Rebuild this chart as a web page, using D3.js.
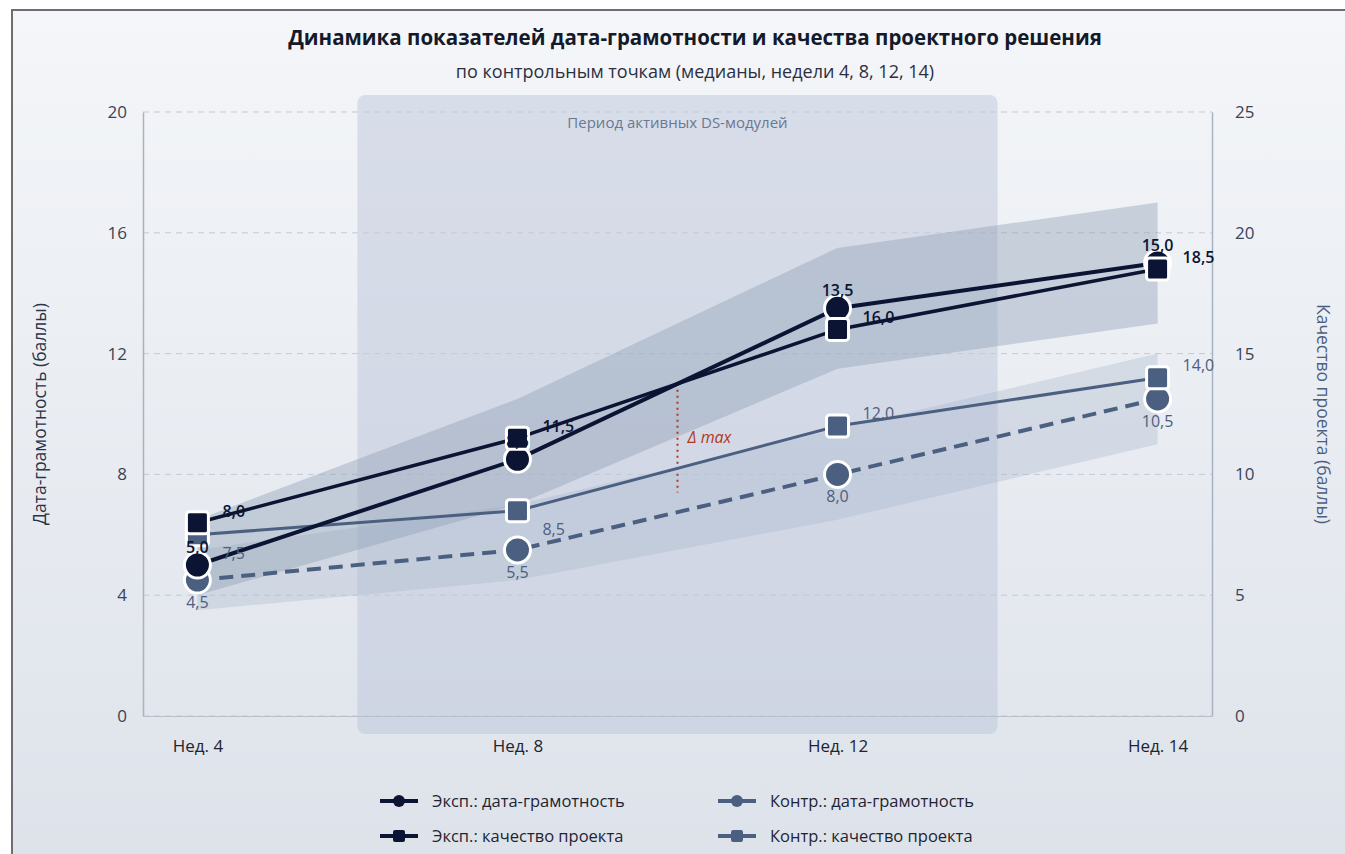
<!DOCTYPE html>
<html>
<head>
<meta charset="utf-8">
<script src="https://cdn.jsdelivr.net/npm/d3@7/dist/d3.min.js"></script>
<style>
  body { margin: 0; background: #fff; font-family: "Open Sans", "Noto Sans", sans-serif; }
  svg { display: block; }
</style>
</head>
<body>
<div id="container"></div>
<script>
// контрольные точки
const weeks = ["Нед. 4", "Нед. 8", "Нед. 12", "Нед. 14"];

// медианы
const expLiteracy = [5.0, 8.5, 13.5, 15.0];
const expQuality = [8.0, 11.5, 16.0, 18.5];
const ctrlLiteracy = [4.5, 5.5, 8.0, 10.5];
const ctrlQuality = [7.5, 8.5, 12.0, 14.0];

// межквартильные коридоры (дата-грамотность)
const expLitLow = [4.0, 7.0, 11.5, 13.0];
const expLitHigh = [6.5, 10.5, 15.5, 17.0];
const ctrlLitLow = [3.5, 4.5, 6.5, 9.0];
const ctrlLitHigh = [5.5, 7.0, 9.5, 12.0];

const leftTicks = [0, 4, 8, 12, 16, 20];
const rightTicks = [0, 5, 10, 15, 20, 25];
const deltaRange = [7.4, 11.0];
const ctrlQualLabelSide = ["below", "below", "above", "above"];

const width = 1345;
const height = 854;
const navy = "#0b1433";
const slate = "#4b6080";
const fmt = (v) => d3.format(".1f")(v).replace(".", ",");

const svg = d3
  .select("#container")
  .append("svg")
  .attr("width", width)
  .attr("height", height);

const defs = svg.append("defs");
const grad = defs
  .append("linearGradient")
  .attr("id", "bg")
  .attr("x1", 0).attr("y1", 0)
  .attr("x2", 0).attr("y2", 1);
grad.append("stop").attr("offset", "0%").attr("stop-color", "#f4f6f9");
grad.append("stop").attr("offset", "100%").attr("stop-color", "#dde2ea");

// карточка
svg
  .append("rect")
  .attr("x", 12)
  .attr("y", 10)
  .attr("width", width + 20)
  .attr("height", height + 20)
  .attr("fill", "url(#bg)")
  .attr("stroke", "#6e6e6e")
  .attr("stroke-width", 2);

const plot = { left: 143, right: 1212, top: 112, bottom: 716 };

const x = d3
  .scalePoint()
  .domain(weeks)
  .range([plot.left, plot.right])
  .padding(0.17);
const yL = d3.scaleLinear().domain([0, 20]).range([plot.bottom, plot.top]);
const yR = d3.scaleLinear().domain([0, 25]).range([plot.bottom, plot.top]);

// заголовки
svg
  .append("text")
  .attr("x", 695)
  .attr("y", 45)
  .attr("text-anchor", "middle")
  .attr("font-size", "20.5px")
  .attr("font-weight", "700")
  .attr("fill", "#141a2a")
  .text("Динамика показателей дата-грамотности и качества проектного решения");

svg
  .append("text")
  .attr("x", 695)
  .attr("y", 78)
  .attr("text-anchor", "middle")
  .attr("font-size", "18px")
  .attr("fill", "#2a3040")
  .text("по контрольным точкам (медианы, недели 4, 8, 12, 14)");

// период активных DS-модулей
const step = x.step();
const dsX0 = x(weeks[0]) + step / 2;
const dsX1 = x(weeks[2]) + step / 2;
svg
  .append("rect")
  .attr("x", dsX0)
  .attr("y", plot.top - 17)
  .attr("width", dsX1 - dsX0)
  .attr("height", plot.bottom - plot.top + 35)
  .attr("rx", 8)
  .attr("fill", "#b9c2d6")
  .attr("opacity", 0.45);

svg
  .append("text")
  .attr("x", (dsX0 + dsX1) / 2)
  .attr("y", 128)
  .attr("text-anchor", "middle")
  .attr("font-size", "15px")
  .attr("fill", "#6a7890")
  .text("Период активных DS-модулей");

// сетка
svg
  .append("g")
  .selectAll("line")
  .data(leftTicks)
  .enter()
  .append("line")
  .attr("x1", plot.left)
  .attr("x2", plot.right)
  .attr("y1", (d) => yL(d))
  .attr("y2", (d) => yL(d))
  .attr("stroke", "#c3cad6")
  .attr("stroke-width", 1)
  .attr("stroke-dasharray", "6,5");

// оси
const axisColor = "#a9b2c1";
const gLeft = svg
  .append("g")
  .attr("transform", `translate(${plot.left},0)`)
  .call(d3.axisLeft(yL).tickValues(leftTicks).tickSize(0).tickPadding(16));
const gRight = svg
  .append("g")
  .attr("transform", `translate(${plot.right},0)`)
  .call(d3.axisRight(yR).tickValues(rightTicks).tickSize(0).tickPadding(23));
const gBottom = svg
  .append("g")
  .attr("transform", `translate(0,${plot.bottom})`)
  .call(d3.axisBottom(x).tickSize(0).tickPadding(24));

[gLeft, gRight, gBottom].forEach((g) => {
  g.select(".domain").attr("stroke", axisColor).attr("stroke-width", 1.5);
  g.selectAll("text")
    .attr("font-family", "'Open Sans', sans-serif")
    .attr("font-size", "17px")
    .attr("fill", "#3a4455");
});
gBottom.selectAll("text").attr("fill", "#1e2433");
gBottom.select(".domain").attr("stroke", "#b8c0cc").attr("stroke-width", 1);

// подписи осей
svg
  .append("text")
  .attr("transform", `translate(46,${(plot.top + plot.bottom) / 2}) rotate(-90)`)
  .attr("text-anchor", "middle")
  .attr("font-size", "17.5px")
  .attr("fill", "#2a3448")
  .text("Дата-грамотность (баллы)");

svg
  .append("text")
  .attr("transform", `translate(1317,${(plot.top + plot.bottom) / 2}) rotate(90)`)
  .attr("text-anchor", "middle")
  .attr("font-size", "17.5px")
  .attr("fill", slate)
  .text("Качество проекта (баллы)");

// коридоры
function band(low, high, fill, opacity) {
  const area = d3
    .area()
    .x((d, i) => x(weeks[i]))
    .y0((d, i) => yL(low[i]))
    .y1((d, i) => yL(high[i]));
  svg
    .append("path")
    .datum(low)
    .attr("d", area)
    .attr("fill", fill)
    .attr("opacity", opacity);
}
band(ctrlLitLow, ctrlLitHigh, "#a9b7ca", 0.35);
band(expLitLow, expLitHigh, "#8d9db4", 0.4);

// Δ max
const xMid = (x(weeks[1]) + x(weeks[2])) / 2;
svg
  .append("line")
  .attr("x1", xMid)
  .attr("x2", xMid)
  .attr("y1", yL(deltaRange[1]))
  .attr("y2", yL(deltaRange[0]))
  .attr("stroke", "#b0391f")
  .attr("stroke-width", 2)
  .attr("stroke-dasharray", "2,4");
svg
  .append("text")
  .attr("x", xMid + 10)
  .attr("y", 443)
  .attr("font-size", "16px")
  .attr("font-style", "italic")
  .attr("fill", "#b0391f")
  .text("Δ max");

// линии
function line(values, scale, color, w, dash) {
  const gen = d3
    .line()
    .x((d, i) => x(weeks[i]))
    .y((d) => scale(d));
  svg
    .append("path")
    .datum(values)
    .attr("d", gen)
    .attr("fill", "none")
    .attr("stroke", color)
    .attr("stroke-width", w)
    .attr("stroke-dasharray", dash || null);
}
line(ctrlLiteracy, yL, slate, 4, "14,8");
line(ctrlQuality, yR, slate, 3);
line(expLiteracy, yL, navy, 4);
line(expQuality, yR, navy, 3.5);

// маркеры
function circles(values, scale, color) {
  svg
    .append("g")
    .selectAll("circle")
    .data(values)
    .enter()
    .append("circle")
    .attr("cx", (d, i) => x(weeks[i]))
    .attr("cy", (d) => scale(d))
    .attr("r", 13)
    .attr("fill", color)
    .attr("stroke", "#fff")
    .attr("stroke-width", 3);
}
function squares(values, scale, color) {
  svg
    .append("g")
    .selectAll("rect")
    .data(values)
    .enter()
    .append("rect")
    .attr("x", (d, i) => x(weeks[i]) - 11)
    .attr("y", (d) => scale(d) - 11)
    .attr("width", 22)
    .attr("height", 22)
    .attr("rx", 3)
    .attr("fill", color)
    .attr("stroke", "#fff")
    .attr("stroke-width", 3);
}
circles(ctrlLiteracy, yL, slate);
squares(ctrlQuality, yR, slate);
circles(expLiteracy, yL, navy);
squares(expQuality, yR, navy);

// подписи значений
function labels(values, scale, color, weight, px, py, anchor) {
  svg
    .append("g")
    .selectAll("text")
    .data(values)
    .enter()
    .append("text")
    .attr("x", (d, i) => x(weeks[i]) + px(i))
    .attr("y", (d, i) => scale(d) + py(i))
    .attr("text-anchor", anchor)
    .attr("font-size", "16px")
    .attr("font-weight", weight)
    .attr("fill", color)
    .text((d) => fmt(d));
}
labels(expLiteracy, yL, navy, 600, () => 0, () => -12, "middle");
labels(expQuality, yR, navy, 600, () => 25, () => -6, "start");
labels(ctrlLiteracy, yL, slate, 400, () => 0, () => 28, "middle");
labels(ctrlQuality, yR, slate, 400, () => 25,
  (i) => (ctrlQualLabelSide[i] === "below" ? 24 : -7), "start");

// легенда
const legendItems = [
  { label: "Эксп.: дата-грамотность", color: navy, shape: "circle", col: 0, row: 0 },
  { label: "Контр.: дата-грамотность", color: slate, shape: "circle", col: 1, row: 0 },
  { label: "Эксп.: качество проекта", color: navy, shape: "square", col: 0, row: 1 },
  { label: "Контр.: качество проекта", color: slate, shape: "square", col: 1, row: 1 },
];
const legend = svg
  .append("g")
  .selectAll("g")
  .data(legendItems)
  .enter()
  .append("g")
  .attr("transform", (d) => `translate(${380 + d.col * 338},${801 + d.row * 35})`);
legend
  .append("line")
  .attr("x1", 0)
  .attr("x2", 38)
  .attr("stroke", (d) => d.color)
  .attr("stroke-width", 4);
legend
  .filter((d) => d.shape === "circle")
  .append("circle")
  .attr("cx", 19)
  .attr("r", 6)
  .attr("fill", (d) => d.color);
legend
  .filter((d) => d.shape === "square")
  .append("rect")
  .attr("x", 13)
  .attr("y", -6)
  .attr("width", 12)
  .attr("height", 12)
  .attr("rx", 2)
  .attr("fill", (d) => d.color);
legend
  .append("text")
  .attr("x", 52)
  .attr("y", 6)
  .attr("font-size", "16.5px")
  .attr("fill", "#1e2433")
  .text((d) => d.label);
</script>
</body>
</html>
